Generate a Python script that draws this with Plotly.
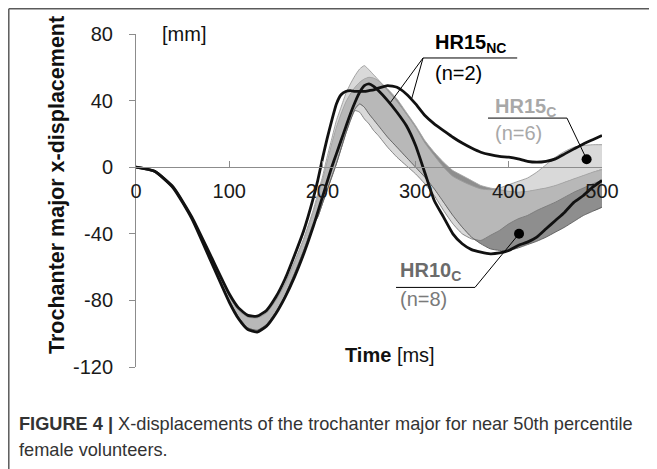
import numpy as np
import plotly.graph_objects as go

# ---------------- data ----------------
T = [0, 20, 40, 60, 80, 100, 110, 120, 130, 140, 150, 160, 170, 180, 190,
     195, 200, 205, 210, 215, 220, 225, 230, 235, 240, 245, 250, 255, 260,
     270, 280, 290, 300, 310, 320, 330, 340, 350, 360, 370, 380, 390, 400,
     410, 420, 430, 440, 450, 460, 470, 480, 490, 500]

# HR15 NC (n=2): two individual curves
NC_1 = [0, -2.5, -12, -30, -53, -76, -84.5, -89, -89.5, -86, -78, -67, -53, -38, -19,
        -8, 5, 17, 28, 38, 43.5, 45.5, 46, 45.5, 45.5, 45.5, 46, 46.5, 47.5,
        49, 48, 44, 38, 31, 26, 22, 18, 14.5, 11.5, 9, 7.5, 6.5, 6,
        5, 3.5, 3, 3.5, 5, 8, 11, 14, 16.5, 19]
NC_2 = [0, -2.5, -12.5, -31, -56, -81, -91, -97.5, -99, -95.5, -88, -78, -66, -52, -36,
        -27, -18, -9, 0, 8, 16, 24, 32, 39, 45, 49, 50, 48.5, 46,
        40, 33, 25, 13, -3.5, -20, -30, -40, -46, -49.5, -51, -52, -51.5, -50,
        -47, -45, -42, -37, -32, -27, -21, -17, -12, -8]

# HR15 C (n=6) corridor
HR15C_hi = [0, -2.5, -12, -30, -53.5, -77, -86, -90, -90.5, -87.5, -80, -70, -57, -43, -26,
            -16, -6, 6, 17, 28, 36, 44, 50, 55, 59, 61, 58.5, 55.5, 52.5,
            46, 39.5, 32, 24, 14.5, 7, 0, -5.5, -8.5, -11, -13, -13.5, -12.5, -10.5,
            -8.5, -6.5, -3, 1.5, 6, 9.5, 12, 13, 13.5, 13.5]
HR15C_lo = [0, -2.5, -12.5, -31, -55.5, -80, -90, -96.5, -98, -94.5, -87, -77, -64, -50, -34,
            -30, -22, -14, -6, 2, 11, 20, 28, 34, 33, 29, 26, 22, 19,
            12, 6, 1, -4, -10, -17, -26, -34, -40, -43, -44, -41, -38, -34,
            -31, -29, -26, -23.5, -21, -18, -15, -12.5, -10, -8]

# HR10 C (n=8) corridor
HR10C_hi = [0, -2.5, -12, -30, -53.5, -77, -86, -90, -90.5, -87.5, -80, -70, -57, -43, -27,
            -18, -8, 3, 14, 24, 32, 39, 44, 48, 51, 53, 54, 53.5, 52,
            47, 41, 33, 25, 16, 9, 3, -2, -5, -8, -11, -12.5, -13.5, -14.5,
            -15, -14.5, -13.5, -12.5, -11, -9, -7, -5, -3, -1.5]
HR10C_lo = [0, -2.5, -12.5, -31, -55.5, -80, -90, -96.5, -98, -94.5, -87, -77, -64, -50, -35,
            -30, -22, -14, -6, 2, 11, 20, 28, 35, 38, 36, 32, 28.5, 25,
            18, 12, 6, 0, -6, -13, -21, -29, -36, -42, -46, -49, -50, -50,
            -48.5, -46.5, -44.5, -42, -39, -36, -32.5, -29, -26.5, -24]

X_TICKS = [0, 100, 200, 300, 400, 500]
Y_TICKS = [-120, -80, -40, 0, 40, 80]

# label markers (data coordinates)
DOT_HR15C = (483.5, 4.8)
DOT_HR10C = (411, -40)

FONT = "Liberation Sans, Arial, sans-serif"

t = np.array(T, dtype=float)
a15h, a15l = np.array(HR15C_hi), np.array(HR15C_lo)
a10h, a10l = np.array(HR10C_hi), np.array(HR10C_lo)
ov_hi = np.minimum(a15h, a10h)
ov_lo = np.maximum(a15l, a10l)
mid = (ov_hi + ov_lo) / 2
bad = ov_hi < ov_lo
ov_hi = np.where(bad, mid, ov_hi)
ov_lo = np.where(bad, mid, ov_lo)

fig = go.Figure()


def band(hi, lo, color):
    fig.add_trace(go.Scatter(
        x=np.concatenate([t, t[::-1]]), y=np.concatenate([hi, lo[::-1]]),
        fill="toself", fillcolor=color, mode="lines",
        line=dict(width=0, color=color, shape="spline", smoothing=0.5),
        hoverinfo="skip", showlegend=False))


band(a15h, a15l, "#d9d9d9")
band(a10h, a10l, "#8e8e8e")
band(ov_hi, ov_lo, "#b8b8b8")

for arr, col in [(a15h, "#9a9a9a"), (a15l, "#7a7a7a"), (a10h, "#a5a5a5"), (a10l, "#5e5e5e")]:
    fig.add_trace(go.Scatter(x=t, y=arr, mode="lines",
                             line=dict(color=col, width=0.9, shape="spline", smoothing=0.5),
                             hoverinfo="skip", showlegend=False))

for arr in (NC_1, NC_2):
    fig.add_trace(go.Scatter(x=t, y=arr, mode="lines",
                             line=dict(color="#111111", width=2.8, shape="spline", smoothing=0.5),
                             hoverinfo="skip", showlegend=False))

# label leader lines / underlines
leaders = [
    ([308, 409], [65.6, 65.6]),
    ([308, 296], [65.6, 41.5]),
    ([308, 272.5], [65.6, 38.5]),
    ([377.7, 462.4], [29.5, 29.5]),
    ([462.4, DOT_HR15C[0]], [29.5, DOT_HR15C[1]]),
    ([279, 363.7], [-72.2, -72.2]),
    ([363.7, DOT_HR10C[0]], [-72.2, DOT_HR10C[1]]),
]
for xs, ys in leaders:
    fig.add_trace(go.Scatter(x=xs, y=ys, mode="lines", line=dict(color="#000000", width=1),
                             hoverinfo="skip", showlegend=False))

fig.add_trace(go.Scatter(x=[DOT_HR15C[0], DOT_HR10C[0]], y=[DOT_HR15C[1], DOT_HR10C[1]],
                         mode="markers", marker=dict(color="#000000", size=10),
                         hoverinfo="skip", showlegend=False))

# page is drawn with an 8px body offset: plot area sits at page x 136..602, y 34..367
fig.update_layout(
    width=657, height=469,
    margin=dict(l=128, r=63, t=26, b=110),
    paper_bgcolor="white", plot_bgcolor="white",
    font=dict(family=FONT, size=20, color="#1a1a1a"),
    showlegend=False,
    xaxis=dict(range=[0, 500], tickvals=X_TICKS, ticktext=[str(v) for v in X_TICKS],
               showgrid=False, zeroline=False,
               showline=True, linecolor="#8c8c8c", linewidth=1,
               ticks="inside", ticklen=6, tickcolor="#8c8c8c",
               anchor="free", position=0.6, side="bottom",
               ticklabelstandoff=6, layer="above traces",
               tickfont=dict(size=20, color="#1a1a1a")),
    yaxis=dict(range=[-120, 80], tickvals=Y_TICKS, ticktext=[str(v) for v in Y_TICKS],
               showgrid=False, zeroline=False,
               showline=True, linecolor="#8c8c8c", linewidth=1,
               ticks="outside", ticklen=6, tickcolor="#8c8c8c",
               ticklabelstandoff=12, layer="above traces",
               tickfont=dict(size=20, color="#1a1a1a")),
)


def px(P):
    return (P - 136) / 466


def py(P):
    return (367 - P) / 333


ann = []
ann.append(dict(xref="paper", yref="paper", x=px(57), y=py(185),
                text="<b>Trochanter major x-displacement</b>", textangle=-90,
                showarrow=False, font=dict(size=21.5, color="#111111"),
                xanchor="center", yanchor="middle"))
ann.append(dict(xref="paper", yref="paper", x=px(390), y=py(355),
                text="<b>Time</b> [ms]", showarrow=False,
                font=dict(size=20, color="#111111"), xanchor="center", yanchor="middle"))
ann.append(dict(xref="x", yref="y", x=25.7, y=80, text="[mm]", showarrow=False,
                font=dict(size=20, color="#111111"), xanchor="left", yanchor="middle"))
labels = [
    dict(xref="x", yref="y", x=318.7, y=74, text="<b>HR15<sub>NC</sub></b>",
         font=dict(size=20, color="#000000")),
    dict(xref="x", yref="y", x=318.7, y=56.5, text="(n=2)",
         font=dict(size=20, color="#000000")),
    dict(xref="x", yref="y", x=383, y=36, text="<b>HR15<sub>C</sub></b>",
         font=dict(size=20, color="#a8a8a8")),
    dict(xref="x", yref="y", x=383, y=20.7, text="(n=6)",
         font=dict(size=20, color="#a8a8a8")),
    dict(xref="x", yref="y", x=281, y=-62.9, text="<b>HR10<sub>C</sub></b>",
         font=dict(size=20, color="#6b6b6b")),
    dict(xref="x", yref="y", x=281, y=-79.4, text="(n=8)",
         font=dict(size=20, color="#7a7a7a")),
]
for a in labels:
    a.update(showarrow=False, xanchor="left", yanchor="middle")
ann += labels
ann.append(dict(xref="paper", yref="paper", x=px(17), y=py(424),
                text="<b>FIGURE 4 |</b> X-displacements of the trochanter major for near 50th percentile",
                showarrow=False, xanchor="left", yanchor="middle",
                font=dict(size=18.2, color="#333333")))
ann.append(dict(xref="paper", yref="paper", x=px(17), y=py(450),
                text="female volunteers.", showarrow=False, xanchor="left", yanchor="middle",
                font=dict(size=18.2, color="#333333")))
fig.update_layout(annotations=ann)

# outer frame (top and left edges visible)
fx = px(8.8)
fy = py(8.8)
fig.add_shape(type="line", xref="paper", yref="paper", x0=fx, x1=fx, y0=fy, y1=-0.5,
              line=dict(color="#5a5a5a", width=1.5))
fig.add_shape(type="line", xref="paper", yref="paper", x0=fx, x1=1.3, y0=fy, y1=fy,
              line=dict(color="#5a5a5a", width=1.5))

fig.write_html("out.html")
